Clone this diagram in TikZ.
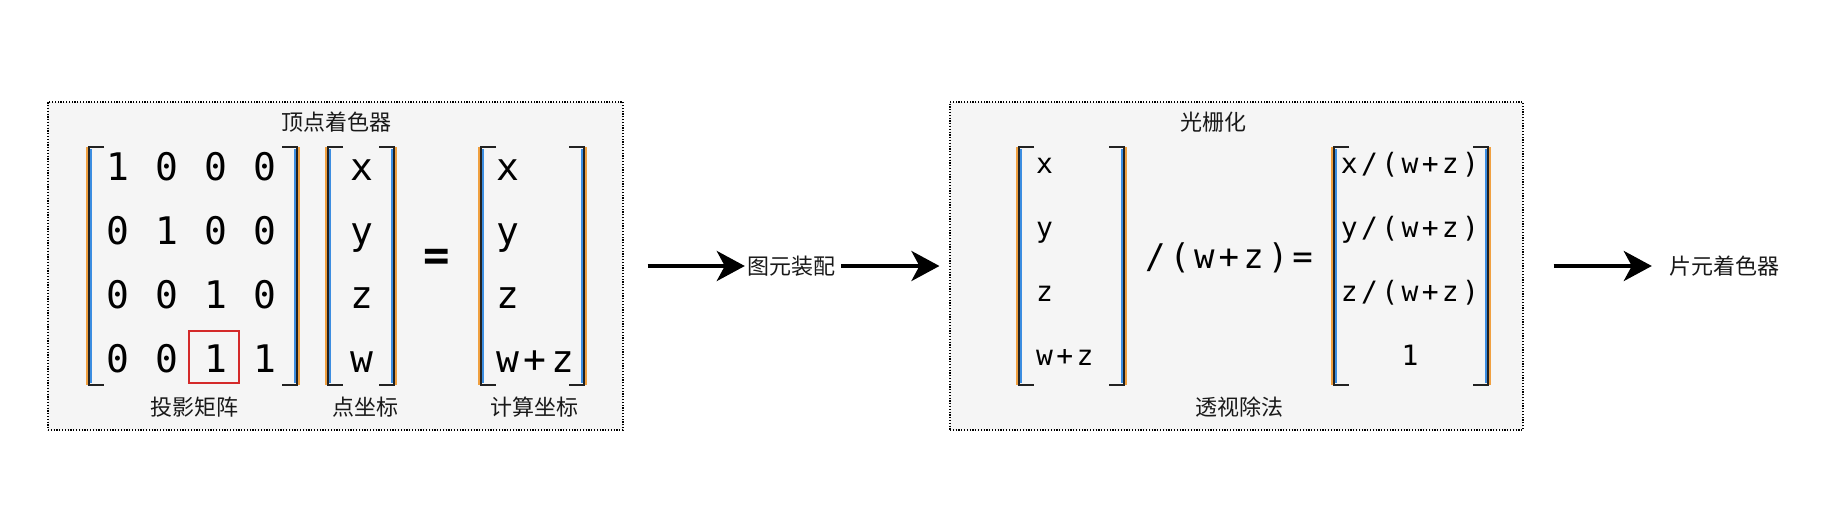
\documentclass[tikz,border=0pt]{standalone}
\usepackage{fontspec}
\setmainfont{DejaVu Sans}
\newfontfamily\cjk{Noto Sans CJK SC}
\newfontfamily\mono[LetterSpace=12]{DejaVu Sans Mono}
\usetikzlibrary{arrows.meta}

\definecolor{panelfill}{HTML}{F5F5F5}
\definecolor{fringeorange}{HTML}{F0A040}
\definecolor{fringeblue}{HTML}{3C8DE0}
\definecolor{bracketdark}{HTML}{222222}
\definecolor{hilitered}{HTML}{D42A2A}

% pair of square brackets: left x, right x, top y, bottom y
\newcommand\drawbrackets[4]{%
  \draw[fringeorange, line width=1.4pt] (#1-1.9,#3) -- (#1-1.9,#4);
  \draw[fringeblue, line width=1.4pt] (#1+1.9,#3+2) -- (#1+1.9,#4-2);
  \draw[fringeblue, line width=1.4pt] (#2-1.9,#3+2) -- (#2-1.9,#4-2);
  \draw[fringeorange, line width=1.4pt] (#2+1.9,#3) -- (#2+1.9,#4);
  \draw[bracketdark, line width=2.6pt] (#1+15,#3) -- (#1,#3) -- (#1,#4) -- (#1+15,#4);
  \draw[bracketdark, line width=2.6pt] (#2-15,#3) -- (#2,#3) -- (#2,#4) -- (#2-15,#4);
}

\begin{document}
\begin{tikzpicture}[x=1pt, y=-1pt,
        panel/.style={draw, dash pattern=on 1.2pt off 1.6pt, line width=1.1pt, fill=panelfill, inner sep=0pt},
        caption/.style={font=\cjk\fontsize{22}{26}\selectfont, text=black!90, inner sep=2pt},
        entry/.style={font=\mono\fontsize{38}{44}\selectfont, inner sep=0pt, text height=27pt, text depth=0pt},
        smallentry/.style={font=\mono\fontsize{28}{34}\selectfont, inner sep=0pt, text height=20pt, text depth=0pt},
        flow/.style={line width=4pt, -{Stealth[length=28pt, width=30pt, inset=8pt]}},
        hilite/.style={draw=hilitered, line width=1.2pt, inner sep=0pt}
    ]
        \fill[white] (0,0) rectangle (1837,525);
        \useasboundingbox (0,0) rectangle (1837,525);

        % stage panels
        \node[panel, minimum width=575pt, minimum height=328pt] (vertex) at (335.5,266) {};
        \node[panel, minimum width=573pt, minimum height=328pt] (raster) at (1236.5,266) {};

        % vertex shader: projection matrix times point
        \node[caption] (vertex-title) at (336,122) {顶点着色器};
        \drawbrackets{89}{297}{147}{385}
        \foreach \row in {0,1,2,3} {
            \foreach \column in {0,1,2,3} {
                \pgfmathtruncatemacro\val{(\row==\column)||(\row==3&&\column==2)}
                \node[entry] (m-\row-\column) at (118+\column*49, 167+\row*64) {\val};
            }
        }
        \node[hilite, minimum width=50pt, minimum height=52pt] (pick) at (214,357) {};
        \drawbrackets{328}{394}{147}{385}
        \foreach \name [count=\i from 0] in {x,y,z,w} {
            \node[entry] (p-\i) at (362, 167+\i*64) {\name};
        }
        \node[font=\mono\bfseries\fontsize{44}{50}\selectfont, inner sep=0pt] (eq) at (437,260) {=};
        \drawbrackets{481}{584}{147}{385}
        \foreach \name [count=\i from 0] in {x,y,z,w+z} {
            \node[entry, anchor=west] (c-\i) at (496, 167+\i*64) {\name};
        }
        \node[caption] (proj) at (194,407) {投影矩阵};
        \node[caption] (point) at (365,407) {点坐标};
        \node[caption] (calc) at (534,407) {计算坐标};

        % rasterization: perspective divide
        \node[caption] (raster-title) at (1213,122) {光栅化};
        \drawbrackets{1019}{1124}{147}{385}
        \foreach \name [count=\i from 0] in {x,y,z,w+z} {
            \node[smallentry, anchor=west] (h-\i) at (1036, 163+\i*64) {\name};
        }
        \node[font=\mono\fontsize{34}{40}\selectfont, inner sep=0pt] (divide) at (1229,258) {/(w+z)=};
        \drawbrackets{1334}{1488}{147}{385}
        \foreach \name [count=\i from 0] in {x/(w+z),y/(w+z),z/(w+z),1} {
            \node[smallentry] (d-\i) at (1410, 163+\i*64) {\name};
        }
        \node[caption] (perspective) at (1239,407) {透视除法};

        % pipeline flow
        \node[caption] (assembly) at (791,266) {图元装配};
        \node[caption] (fragment) at (1724,266) {片元着色器};
        \draw[flow] ([xshift=24pt]vertex.east) -- (assembly.west);
        \draw[flow, shorten <=4pt, shorten >=10pt] (assembly.east) -- (raster.west);
        \draw[flow, shorten >=15pt] ([xshift=30pt]raster.east) -- (fragment.west);
    \end{tikzpicture}
\end{document}
